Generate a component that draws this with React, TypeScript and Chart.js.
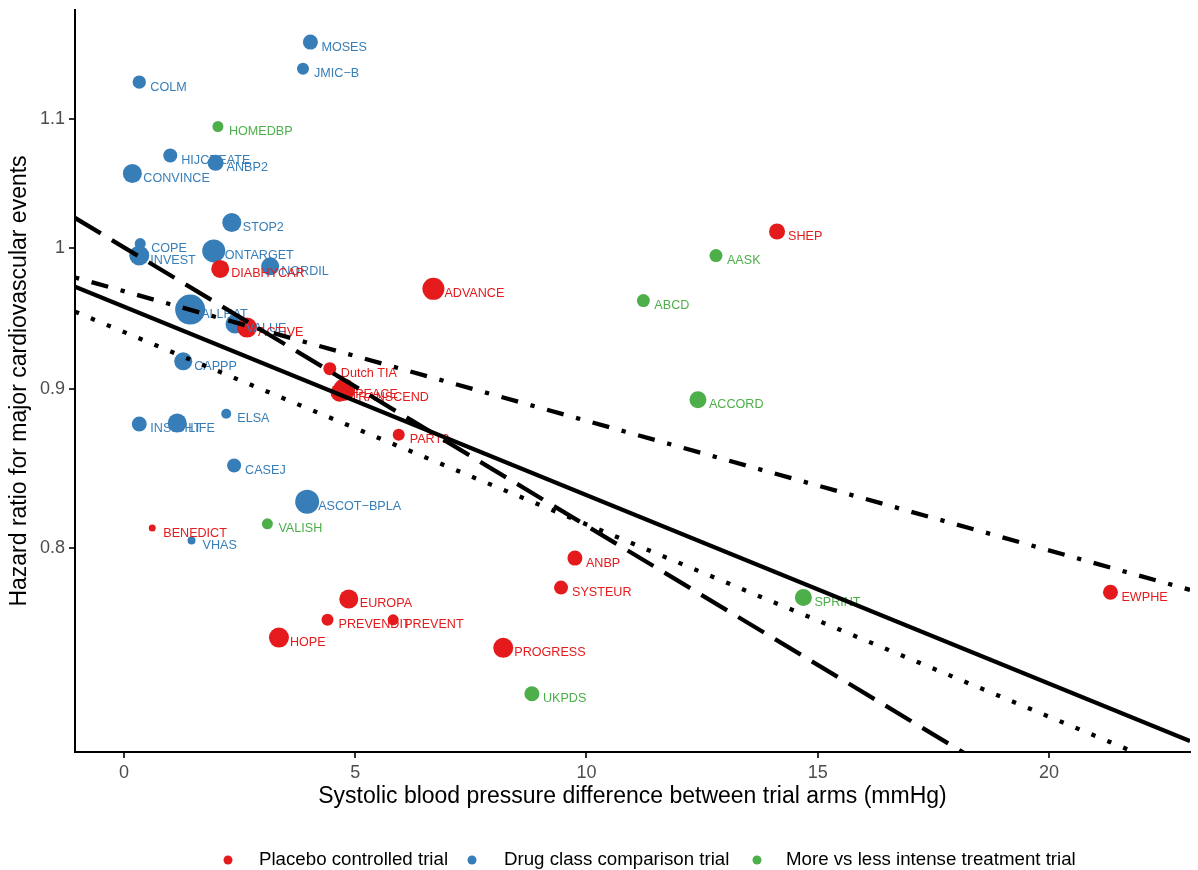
import React, { useEffect, useRef } from "react";
import { Chart, registerables } from "chart.js";

Chart.register(...registerables);

// ---- Data ----
const placeboNames = ["SHEP", "DIABHYCAR", "ADVANCE", "ACTIVE", "Dutch TIA", "PEACE", "TRANSCEND", "PART2", "BENEDICT", "ANBP", "SYSTEUR", "EWPHE", "EUROPA", "PREVENDIT", "PREVENT", "HOPE", "PROGRESS"];
const placeboX = [14.12, 2.08, 6.69, 2.66, 4.45, 4.76, 4.66, 5.94, 0.61, 9.75, 9.45, 21.33, 4.86, 4.40, 5.82, 3.35, 8.20];
const placeboY = [1.012, 0.9843, 0.9698, 0.9423, 0.914, 0.8998, 0.8978, 0.8702, 0.8119, 0.794, 0.7768, 0.7741, 0.7703, 0.7584, 0.7584, 0.7485, 0.7428];
const placeboWeight = [8, 9, 11, 10, 6.5, 11, 9, 6, 3.5, 7.5, 7, 7.5, 9.5, 6, 5.5, 10, 10];

const drugNames = ["MOSES", "JMIC\u2212B", "COLM", "HIJCREATE", "ANBP2", "CONVINCE", "STOP2", "COPE", "INVEST", "ONTARGET", "NORDIL", "ALLHAT", "VALUE", "CAPPP", "ELSA", "INSIGHT", "LIFE", "CASEJ", "ASCOT\u2212BPLA", "VHAS"];
const drugX = [4.03, 3.87, 0.33, 1.0, 1.98, 0.18, 2.33, 0.35, 0.33, 1.94, 3.16, 1.43, 2.40, 1.28, 2.21, 0.33, 1.15, 2.38, 3.96, 1.46];
const drugY = [1.1649, 1.1421, 1.1308, 1.0708, 1.065, 1.0566, 1.0188, 1.003, 0.9941, 0.9975, 0.9862, 0.955, 0.9448, 0.919, 0.8839, 0.8772, 0.8778, 0.8505, 0.8279, 0.8044];
const drugWeight = [7.5, 6, 6.7, 7, 8, 9.5, 9.5, 5.5, 10, 11.5, 9, 15, 9.5, 9, 5, 7.5, 9.5, 7, 12, 4];

const intenseNames = ["HOMEDBP", "AASK", "ABCD", "ACCORD", "VALISH", "SPRINT", "UKPDS"];
const intenseX = [2.03, 12.80, 11.23, 12.41, 3.10, 14.69, 8.82];
const intenseY = [1.0941, 0.9941, 0.9614, 0.8931, 0.8145, 0.7711, 0.7179];
const intenseWeight = [5.5, 6.5, 6.5, 8.5, 5.5, 8.5, 7.5];

const groupLabels = ["Placebo controlled trial", "Drug class comparison trial", "More vs less intense treatment trial"];

// regression lines (start / end hazard ratio across the x range)
const fitStartY = [0.9714, 1.0223, 0.978, 0.9535];
const fitEndY = [0.6931, 0.621, 0.7755, 0.6757];

const xRange = [-1.06, 23.05];
const yRange = [0.6875, 1.193];
const xTicks = [0, 5, 10, 15, 20];
const yTicks = [0.8, 0.9, 1, 1.1];
const yTickLabels = ["0.8", "0.9", "1", "1.1"];

const xTitle = "Systolic blood pressure difference between trial arms (mmHg)";
const yTitle = "Hazard ratio for major cardiovascular events";

// ---- Styles ----
const RED = "#E41A1C";
const BLUE = "#377EB8";
const GREEN = "#4DAF4A";
const FONT = '"Liberation Sans", Arial, Helvetica, sans-serif';
const LW = 4.3;
const dashPatterns = [[], [7 * LW, 3 * LW], [1 * LW, 3 * LW, 4 * LW, 3 * LW], [1 * LW, 3 * LW]];

export default function App() {
  const ref = useRef<HTMLCanvasElement>(null);

  useEffect(() => {
    const canvas = ref.current;
    if (!canvas) return;

    const groups = [
      { names: placeboNames, xs: placeboX, ys: placeboY, ws: placeboWeight, color: RED, label: groupLabels[0], order: 1 },
      { names: drugNames, xs: drugX, ys: drugY, ws: drugWeight, color: BLUE, label: groupLabels[1], order: 2 },
      { names: intenseNames, xs: intenseX, ys: intenseY, ws: intenseWeight, color: GREEN, label: groupLabels[2], order: 3 },
    ];

    const lineSets = fitStartY.map((y0, i) => ({
      type: "line" as const,
      label: "fit" + i,
      data: [
        { x: xRange[0], y: y0 },
        { x: xRange[1], y: fitEndY[i] },
      ],
      showLine: true,
      borderColor: "#000000",
      borderWidth: LW,
      borderDash: dashPatterns[i],
      borderCapStyle: "butt" as const,
      pointRadius: 0,
      fill: false,
      order: 0,
      clip: 0,
    }));

    const pointSets = groups.map((g) => ({
      type: "scatter" as const,
      label: g.label,
      data: g.xs.map((x, i) => ({ x, y: g.ys[i] })),
      pointRadius: g.ws.map((w) => w),
      pointHoverRadius: g.ws.map((w) => w),
      backgroundColor: g.color,
      borderColor: g.color,
      pointBorderWidth: 0,
      borderWidth: 0,
      order: g.order,
      clip: false,
    }));

    const redIndex = lineSets.length;

    const labelPlugin = {
      id: "trialLabels",
      afterDatasetDraw(chart: any, args: any) {
        if (args.index !== redIndex) return;
        const ctx = chart.ctx;
        const xs = chart.scales.x;
        const ys = chart.scales.y;
        ctx.save();
        ctx.font = `12.6px ${FONT}`;
        ctx.textAlign = "left";
        ctx.textBaseline = "middle";
        const drawOrder = [groups[1], groups[2], groups[0]];
        for (const g of drawOrder) {
          ctx.fillStyle = g.color;
          g.names.forEach((n, i) => {
            const px = xs.getPixelForValue(g.xs[i]);
            const py = ys.getPixelForValue(g.ys[i]);
            ctx.fillText(n, px + 11, py + 5);
          });
        }
        ctx.restore();
      },
    };

    const decorPlugin = {
      id: "decor",
      afterDraw(chart: any) {
        const ctx = chart.ctx;
        const area = chart.chartArea;
        ctx.save();
        ctx.fillStyle = "#000000";
        ctx.font = `23px ${FONT}`;
        ctx.textAlign = "center";
        ctx.textBaseline = "middle";
        ctx.fillText(xTitle, (area.left + area.right) / 2, 797);
        ctx.save();
        ctx.translate(20, (area.top + area.bottom) / 2);
        ctx.rotate(-Math.PI / 2);
        ctx.fillText(yTitle, 0, 0);
        ctx.restore();

        const dotX = [228, 472, 757];
        const textX = [259, 504, 786];
        const ly = 860;
        ctx.font = `18.7px ${FONT}`;
        ctx.textAlign = "left";
        groups.forEach((g, i) => {
          ctx.fillStyle = g.color;
          ctx.beginPath();
          ctx.arc(dotX[i], ly, 4.5, 0, Math.PI * 2);
          ctx.fill();
          ctx.fillStyle = "#000000";
          ctx.fillText(g.label, textX[i], ly);
        });
        ctx.restore();
      },
    };

    const chart = new Chart(canvas, {
      type: "scatter",
      data: { datasets: [...lineSets, ...pointSets] as any },
      options: {
        responsive: false,
        animation: false,
        events: [],
        layout: { autoPadding: false, padding: { top: 10, right: 8, left: 0, bottom: 0 } },
        plugins: {
          legend: { display: false },
          tooltip: { enabled: false },
          title: { display: false },
        },
        scales: {
          x: {
            type: "linear",
            min: xRange[0],
            max: xRange[1],
            afterBuildTicks: (s: any) => {
              s.ticks = xTicks.map((v) => ({ value: v }));
            },
            afterFit: (s: any) => {
              s.height = 118;
              s.paddingLeft = 0;
              s.paddingRight = 0;
              s.paddingTop = 0;
              s.paddingBottom = 0;
            },
            ticks: {
              autoSkip: false,
              maxRotation: 0,
              padding: 4,
              color: "#4D4D4D",
              font: { family: FONT, size: 18 },
              callback: (v: any) => String(v),
            },
            grid: { display: true, drawOnChartArea: false, drawTicks: true, tickLength: 6, color: "#333333", lineWidth: 2 },
            border: { display: true, color: "#000000", width: 2 },
          },
          y: {
            type: "logarithmic",
            min: yRange[0],
            max: yRange[1],
            afterBuildTicks: (s: any) => {
              s.ticks = yTicks.map((v) => ({ value: v }));
            },
            afterFit: (s: any) => {
              s.width = 75;
              s.paddingLeft = 0;
              s.paddingRight = 0;
              s.paddingTop = 0;
              s.paddingBottom = 0;
            },
            ticks: {
              autoSkip: false,
              padding: 4,
              color: "#4D4D4D",
              font: { family: FONT, size: 18 },
              callback: (v: any) => {
                const idx = yTicks.findIndex((t) => Math.abs(t - Number(v)) < 1e-9);
                return idx >= 0 ? yTickLabels[idx] : "";
              },
            },
            grid: { display: true, drawOnChartArea: false, drawTicks: true, tickLength: 6, color: "#333333", lineWidth: 2 },
            border: { display: true, color: "#000000", width: 2 },
          },
        },
      },
      plugins: [labelPlugin, decorPlugin],
    } as any);

    return () => chart.destroy();
  }, []);

  return (
    <div style={{ position: "fixed", left: 0, top: 0, width: 1198, height: 870, background: "#ffffff" }}>
      <canvas ref={ref} width={1198} height={870} style={{ display: "block" }} />
    </div>
  );
}
